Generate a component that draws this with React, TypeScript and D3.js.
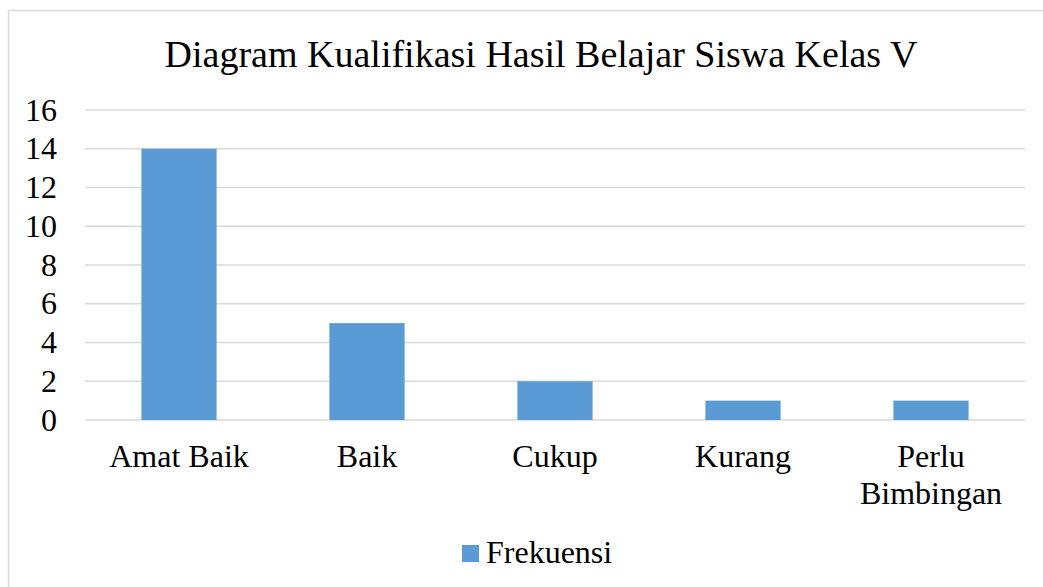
import React from "react";
import * as d3 from "d3";

const categories: string[][] = [["Amat Baik"], ["Baik"], ["Cukup"], ["Kurang"], ["Perlu", "Bimbingan"]];
const frekuensi: number[] = [14, 5, 2, 1, 1];
const yTicks: number[] = [0, 2, 4, 6, 8, 10, 12, 14, 16];
const title = "Diagram Kualifikasi Hasil Belajar Siswa Kelas V";
const seriesName = "Frekuensi";

const W = 1043;
const H = 587;
const FONT = "Liberation Serif, Times New Roman, serif";
const BAR = "#5B9BD5";

export default function App() {
  const keys = categories.map((c) => c.join(" "));
  const x = d3.scaleBand<string>().domain(keys).range([85, 1025]).paddingInner(0.6).paddingOuter(0.3);
  const y = d3.scaleLinear().domain([0, 16]).range([420, 110]);

  return (
    <svg width={W} height={H} style={{ position: "absolute", left: 0, top: 0, background: "#fff", fontFamily: FONT }}>
      <rect x={8.5} y={10.5} width={1040} height={590} fill="#fff" stroke="#D9D9D9" strokeWidth={1.5} />
      <text x={541} y={67} textAnchor="middle" fontSize={38} fill="#000">{title}</text>
      {yTicks.map((t) => (
        <g key={t}>
          <line x1={85} x2={1025} y1={y(t)} y2={y(t)} stroke="#D9D9D9" strokeWidth={1.5} />
          <text x={57} y={y(t) + 10.5} textAnchor="end" fontSize={32} fill="#000">{t}</text>
        </g>
      ))}
      {frekuensi.map((v, i) => (
        <rect key={i} x={x(keys[i])!} y={y(v)} width={x.bandwidth()} height={y(0) - y(v)} fill={BAR} />
      ))}
      {categories.map((lines, i) => (
        <text key={i} textAnchor="middle" fontSize={32} fill="#000">
          {lines.map((l, j) => (
            <tspan key={j} x={x(keys[i])! + x.bandwidth() / 2} y={467 + j * 37}>{l}</tspan>
          ))}
        </text>
      ))}
      <rect x={462} y={545} width={17} height={17} fill={BAR} />
      <text x={486} y={563} fontSize={32} fill="#000">{seriesName}</text>
    </svg>
  );
}
